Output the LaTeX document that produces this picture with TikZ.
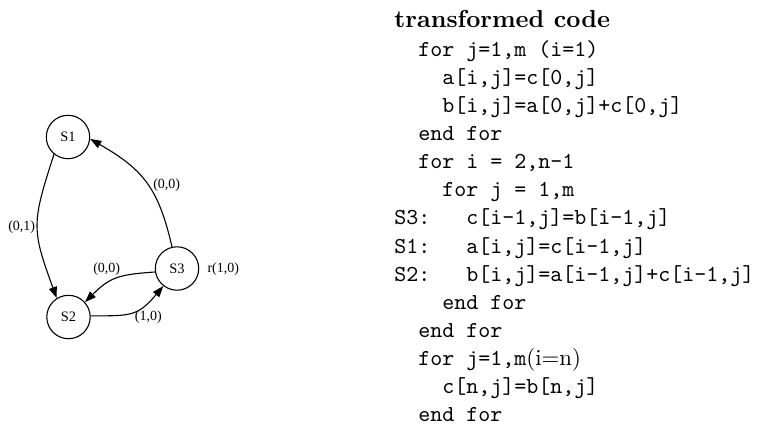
\documentclass[tikz,border=0pt]{standalone}
\usepackage{fontspec}
\newfontfamily\gvfont{Liberation Serif}
\newfontfamily\codefont{lmmono10-regular.otf}
\newfontfamily\coderm{lmroman10-regular.otf}
\newfontfamily\titlefont{lmroman10-bold.otf}
\usetikzlibrary{arrows.meta}
\begin{document}
\begin{tikzpicture}[x=0.5pt,y=0.5pt,
  state/.style={circle,draw,line width=0.55pt,minimum size=21.7pt,inner sep=0pt,font=\gvfont\fontsize{7.2}{8}\selectfont},
  elabel/.style={inner sep=0pt,font=\gvfont\fontsize{7}{8}\selectfont},
  dep/.style={line width=0.55pt,-{Triangle[length=5.6pt,width=4pt]}},
  codeline/.style={anchor=base west,inner sep=0pt,font=\codefont\fontsize{11.43}{13}\selectfont},
  codetitle/.style={anchor=base west,inner sep=0pt,font=\titlefont\fontsize{12.3}{14}\selectfont}]
\useasboundingbox (0,0) rectangle (770,-441);
% graph
\node[state] (S1) at (68,-137) {S1};
\node[state] (S2) at (68.5,-317) {S2};
\node[state] (S3) at (177,-268.5) {S3};
\draw[dep] (S1.-129) to[out=-108,in=110,looseness=1.3] (S2.122);
\draw[dep] (S3.103) to[out=103,in=-30,looseness=1.15] (S1.-5);
\draw[dep] (S3.-171) to[out=184,in=45,looseness=1.2] (S2.42);
\draw[dep] (S2.3) to[out=0,in=-130,looseness=1.3] (S3.-128);
\node[elabel] (l1) at (166.7,-185) {(0,0)};
\node[elabel] (l2) at (21.7,-226.7) {(0,1)};
\node[elabel] (l3) at (106.7,-269.3) {(0,0)};
\node[elabel] (l4) at (148.3,-317.3) {(1,0)};
\node[elabel] (l5) at (223.3,-269.3) {r(1,0)};
% code
\node[codetitle] (t0) at (394,-27) {transformed code};
\node[codeline] (c1) at (418,-56.3) {for j=1,m (i=1)};
\node[codeline] (c2) at (442,-84.4) {a[i,j]=c[0,j]};
\node[codeline] (c3) at (442,-112.5) {b[i,j]=a[0,j]+c[0,j]};
\node[codeline] (c4) at (418,-140.6) {end for};
\node[codeline] (c5) at (418,-168.7) {for i = 2,n-1};
\node[codeline] (c6) at (442,-196.8) {for j = 1,m};
\node[codeline] (c7) at (394,-224.9) {S3:\ \ \ c[i-1,j]=b[i-1,j]};
\node[codeline] (c8) at (394,-253) {S1:\ \ \ a[i,j]=c[i-1,j]};
\node[codeline] (c9) at (394,-281.1) {S2:\ \ \ b[i,j]=a[i-1,j]+c[i-1,j]};
\node[codeline] (c10) at (442,-309.2) {end for};
\node[codeline] (c11) at (418,-337.3) {end for};
\node[codeline] (c12) at (418,-365.4) {for j=1,m{\coderm(i=n)}};
\node[codeline] (c13) at (442,-393.5) {c[n,j]=b[n,j]};
\node[codeline] (c14) at (418,-421.6) {end for};
\end{tikzpicture}
\end{document}
